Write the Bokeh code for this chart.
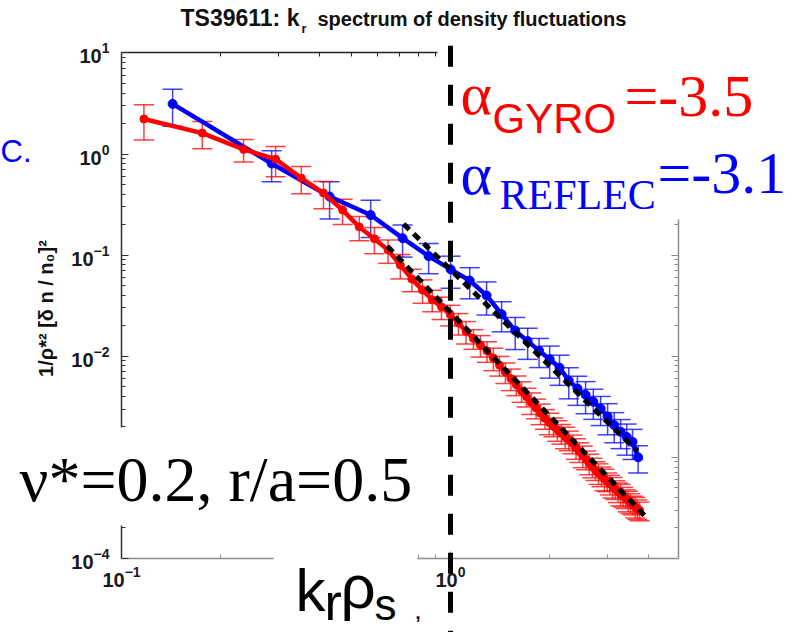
import numpy as np
from bokeh.plotting import figure
from bokeh.models import (Range1d, LogAxis, FixedTicker, LogTickFormatter, Label,
                          BoxAnnotation, Whisker, TeeHead, ColumnDataSource,
                          CustomJSTickFormatter)
from bokeh.embed import file_html
from bokeh.resources import INLINE

# ---------------- data ----------------
red_k = [0.117, 0.176, 0.235, 0.294, 0.352, 0.411, 0.470, 0.528, 0.587, 0.646,
         0.704, 0.763, 0.822, 0.880, 0.939, 0.998, 1.057, 1.115, 1.174, 1.233,
         1.291, 1.350, 1.409, 1.468, 1.526, 1.585, 1.644, 1.702, 1.761, 1.820,
         1.878, 1.937, 1.996, 2.055, 2.113, 2.172, 2.231, 2.289, 2.348, 2.407,
         2.465, 2.524, 2.583, 2.641, 2.700, 2.759, 2.818, 2.876, 2.935, 2.994,
         3.052, 3.111, 3.170, 3.228, 3.287, 3.346, 3.405, 3.463, 3.522, 3.581,
         3.639, 3.698, 3.757]
red_y = [2.22, 1.61, 1.11, 0.890, 0.578, 0.411, 0.279, 0.190, 0.145, 0.112,
         0.0796, 0.0579, 0.0451, 0.0362, 0.0307, 0.0259, 0.0213, 0.0176, 0.0150, 0.0129,
         0.0113, 0.00959, 0.00815, 0.00697, 0.00601, 0.00522, 0.00454, 0.00398, 0.00349, 0.00308,
         0.00273, 0.00243, 0.00220, 0.00202, 0.00187, 0.00173, 0.00160, 0.00149, 0.00137, 0.00124,
         0.00114, 0.00104, 0.000953, 0.000873, 0.000803, 0.000746, 0.000700, 0.000656, 0.000615, 0.000578,
         0.000544, 0.000513, 0.000484, 0.000457, 0.000435, 0.000413, 0.000394, 0.000375, 0.000357, 0.000341,
         0.000326, 0.000311, 0.000298]
red_err = [0.38, 0.30, 0.25, 0.33, 0.30, 0.30, 0.28, 0.27, 0.29, 0.26,
           0.27, 0.25, 0.26, 0.24, 0.25, 0.23, 0.24, 0.25, 0.22, 0.24,
           0.23, 0.25, 0.22, 0.23, 0.24, 0.22, 0.23, 0.21, 0.24, 0.22,
           0.23, 0.22, 0.24, 0.21, 0.23, 0.22, 0.24, 0.22, 0.21, 0.23,
           0.22, 0.24, 0.21, 0.23, 0.22, 0.21, 0.23, 0.22, 0.24, 0.21,
           0.22, 0.23, 0.21, 0.22, 0.24, 0.22, 0.21, 0.23, 0.22, 0.21,
           0.23, 0.22, 0.21]

blue_k = [0.143, 0.286, 0.429, 0.572, 0.715, 0.858, 1.001, 1.144, 1.287, 1.430,
          1.573, 1.716, 1.859, 2.002, 2.145, 2.288, 2.431, 2.574, 2.717, 2.860,
          3.003, 3.146, 3.289, 3.432, 3.575, 3.718]
blue_y = [3.13, 0.805, 0.380, 0.249, 0.147, 0.0977, 0.0723, 0.0560, 0.0399, 0.0260,
          0.0179, 0.0141, 0.01135, 0.00933, 0.00769, 0.00574, 0.00480, 0.00415, 0.00354, 0.00303,
          0.00253, 0.00208, 0.00179, 0.00159, 0.00142, 0.00100]
blue_err = [0.40, 0.34, 0.40, 0.40, 0.35, 0.33, 0.35, 0.34, 0.36, 0.33,
            0.35, 0.34, 0.32, 0.35, 0.33, 0.34, 0.32, 0.35, 0.33, 0.32,
            0.34, 0.33, 0.32, 0.34, 0.33, 0.30]

fit_gyro_k = [0.643, 3.91]
fit_gyro_y = [0.1227, 0.000261]
fit_reflec_k = [0.72, 3.70]
fit_reflec_y = [0.203, 0.00115]

vline_k = [1.0, 1.0]
vline_y = [11.8, 1e-6]

x_major = [0.1, 1.0]
x_minor = [0.2, 0.3, 0.4, 0.5, 0.6, 0.7, 0.8, 0.9, 2.0, 3.0, 4.0]
y_major = [1e-4, 1e-3, 1e-2, 1e-1, 1.0, 10.0]
y_minor = [m * 10.0 ** e for e in range(-4, 1) for m in range(2, 10)]
x_end = 4.93

title_a = "TS39611: k"
title_sub = "r"
title_b = "spectrum of density fluctuations"
ylabel = "1/\u03c1*\u00b2 [\u03b4 n / n\u2080]\u00b2"
note_text = "\u03bd*=0.2, r/a=0.5"
gyro_parts = ["\u03b1", "GYRO", "=-3.5"]
reflec_parts = ["\u03b1", "REFLEC", "=-3.1"]
xlabel_parts = ["k", "r", "\u03c1", "s", ","]


# reference-pixel -> data helpers (used only for placing annotations)
def X(px):
    return 10 ** (-1 + (px - 121) / 329.0)


def Y(py):
    return 10 ** ((153.5 - py) / 101.1)


W, H = 801, 632
p = figure(width=W, height=H, x_axis_type="log", y_axis_type="log",
           x_range=Range1d(X(0), X(W)), y_range=Range1d(Y(H), Y(0)),
           min_border=0, toolbar_location=None, output_backend="svg",
           title=None, outline_line_color=None,
           background_fill_color="white", border_fill_color="white")
p.xgrid.visible = False
p.ygrid.visible = False

SANS = "Liberation Sans"
SERIF = "Liberation Serif"


def style_axis(ax, color, labels=True):
    ax.axis_line_color = color
    ax.axis_line_width = 1.5
    ax.major_tick_line_color = color
    ax.minor_tick_line_color = color
    ax.major_tick_in = 7
    ax.major_tick_out = 0
    ax.minor_tick_in = 4
    ax.minor_tick_out = 0
    if labels:
        ax.formatter = LogTickFormatter()
        ax.major_label_text_font = SANS
        ax.major_label_text_font_style = "bold"
        ax.major_label_text_font_size = "20px"
        ax.major_label_text_color = "#1a1a1a"
    else:
        ax.formatter = CustomJSTickFormatter(code="return ''")


xa = p.below[0]
xa.ticker = FixedTicker(ticks=x_major, minor_ticks=x_minor)
style_axis(xa, "#8c8c8c")
xa.fixed_location = 1e-4
xa.bounds = (0.1, x_end)
xa.major_label_standoff = 8

ya = p.left[0]
ya.ticker = FixedTicker(ticks=y_major, minor_ticks=y_minor)
style_axis(ya, "#333333")
ya.fixed_location = 0.1
ya.bounds = (1e-4, 10.0)
ya.major_label_standoff = 12

top = LogAxis(ticker=FixedTicker(ticks=x_major, minor_ticks=x_minor))
style_axis(top, "#222222", labels=False)
top.fixed_location = 10.0
top.bounds = (0.1, x_end)
p.add_layout(top, "above")

right = LogAxis(ticker=FixedTicker(ticks=y_major, minor_ticks=y_minor))
style_axis(right, "#8c8c8c", labels=False)
right.fixed_location = x_end
right.bounds = (1e-4, 10.0)
p.add_layout(right, "right")

# ---------------- data series ----------------
def make_src(k, y, e):
    k = np.array(k); y = np.array(y); e = np.array(e)
    return ColumnDataSource(dict(k=k, y=y, lo=y * (1 - e), hi=y * (1 + e)))


blue_src = make_src(blue_k, blue_y, blue_err)
red_src = make_src(red_k, red_y, red_err)

for src, col, alpha in [(blue_src, "#0000ff", 0.75), (red_src, "#ff0000", 0.75)]:
    head = dict(size=20, line_color=col, line_alpha=alpha, line_width=1.5)
    p.add_layout(Whisker(source=src, base="k", upper="hi", lower="lo", dimension="height",
                         line_color=col, line_alpha=alpha, line_width=1.5,
                         upper_head=TeeHead(**head), lower_head=TeeHead(**head),
                         level="underlay"))

p.line("k", "y", source=blue_src, line_color="#0000ff", line_width=4.5)
p.scatter("k", "y", source=blue_src, marker="circle", size=9, color="#0000ff")
p.line("k", "y", source=red_src, line_color="#ff0000", line_width=4.5)
p.scatter("k", "y", source=red_src, marker="circle", size=8, color="#ff0000")

p.line(fit_gyro_k, fit_gyro_y, line_color="black", line_width=5, line_dash="8 6")
p.line(fit_reflec_k, fit_reflec_y, line_color="black", line_width=5, line_dash="8 6")

# ---------------- white text boxes ----------------
for l, r, b, t in [(X(437), X(830), Y(219), Y(-30)),
                   (X(15), X(420), Y(525), Y(427)),
                   (X(273), X(417), Y(680), Y(545))]:
    p.add_layout(BoxAnnotation(left=l, right=r, bottom=b, top=t, fill_color="white",
                               fill_alpha=1.0, line_color=None, line_alpha=0))

# vertical dashed marker at k_r rho_s = 1
p.line(vline_k, vline_y, line_color="black", line_width=5, line_dash="21 18", level="overlay")

BASE_SHIFT = 0.36  # Bokeh draws the alphabetic line a bit lower than the anchor


def lab(text, px, py, size, font=SANS, color="black", style="normal", align="left", angle=0.0):
    if angle:
        px = px - BASE_SHIFT * size
    else:
        py = py - BASE_SHIFT * size
    p.add_layout(Label(x=X(px), y=Y(py), text=text, text_font=font, text_font_size=f"{size}px",
                       text_color=color, text_font_style=style, text_align=align,
                       text_baseline="alphabetic", angle=angle))


# title
lab(title_a, 180, 26, 23, style="bold", color="#111111")
lab(title_sub, 301, 33, 13, style="bold", color="#111111")
lab(title_b, 317, 26, 20, style="bold", color="#111111")

# y label
lab(ylabel, 53, 308, 20, style="bold", color="#111111", align="center", angle=np.pi / 2)

# blue word fragment at the left edge
lab("C.", 0, 162, 31, color="#0000ff")

# slopes
lab(gyro_parts[0], 460, 115, 60, font=SERIF, color="#ff0000")
lab(gyro_parts[1], 492, 133, 42, font=SANS, color="#ff0000")
lab(gyro_parts[2], 624, 117, 60, font=SERIF, color="#ff0000")
lab(reflec_parts[0], 460, 195, 60, font=SERIF, color="#0000ff")
lab(reflec_parts[1], 499, 210, 42, font=SERIF, color="#0000ff")
lab(reflec_parts[2], 657, 194, 60, font=SERIF, color="#0000ff")

# parameters
lab(note_text, 19, 502, 64, font=SERIF)

# x label
lab(xlabel_parts[0], 295, 612, 60)
lab(xlabel_parts[1], 324, 620, 52)
lab(xlabel_parts[2], 340, 608, 62)
lab(xlabel_parts[3], 374, 620, 44)
lab(xlabel_parts[4], 415, 618, 18, style="bold")

open("out.html", "w").write(file_html(p, INLINE, title="kr spectrum"))
